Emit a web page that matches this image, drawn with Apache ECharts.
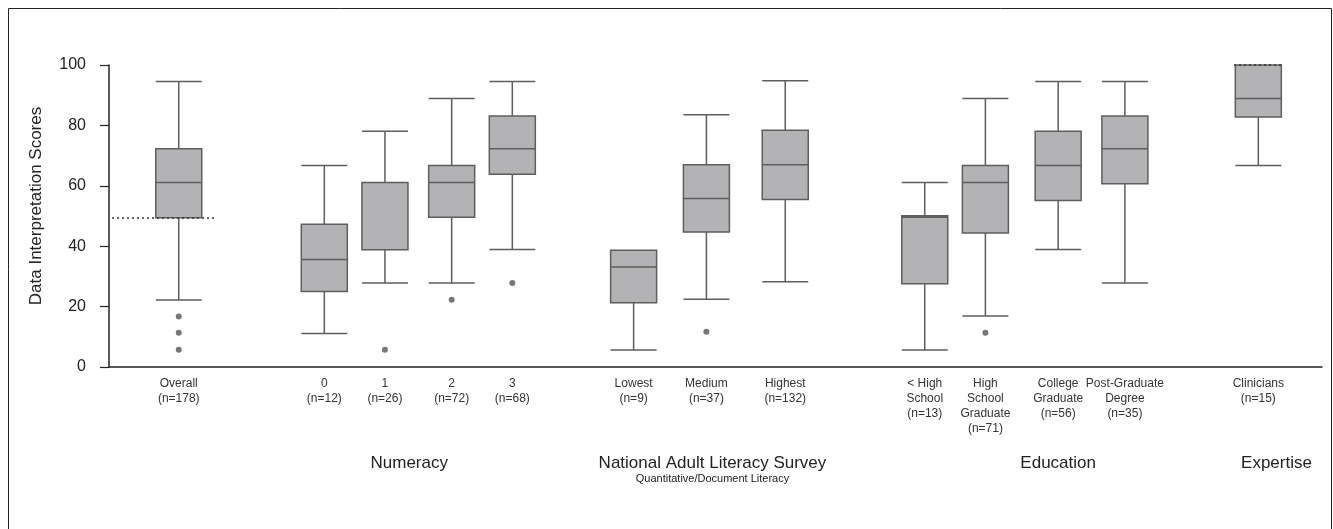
<!DOCTYPE html>
<html>
<head>
<meta charset="utf-8">
<script src="https://cdn.jsdelivr.net/npm/echarts@6/dist/echarts.min.js"></script>
<style>
html, body { margin: 0; padding: 0; background: #fff; }
#chart { width: 1333px; height: 529px; }
</style>
</head>
<body>
<div id="chart"></div>
<script>
// categories (x labels) and box statistics
var categories = ['Overall\n(n=178)', '0\n(n=12)', '1\n(n=26)', '2\n(n=72)', '3\n(n=68)',
	'Lowest\n(n=9)', 'Medium\n(n=37)', 'Highest\n(n=132)',
	'< High\nSchool\n(n=13)', 'High\nSchool\nGraduate\n(n=71)', 'College\nGraduate\n(n=56)', 'Post-Graduate\nDegree\n(n=35)',
	'Clinicians\n(n=15)'];
var boxMin    = [22.2, 11.1, 27.8, 27.8, 38.9,  5.6, 22.4, 28.2,  5.6, 16.9, 38.9, 27.8,  66.7];
var boxQ1     = [49.4, 25.0, 38.8, 49.6, 63.8, 21.3, 44.7, 55.5, 27.6, 44.4, 55.1, 60.7,  82.8];
var boxMedian = [61.1, 35.6, 61.1, 61.1, 72.3, 33.1, 55.8, 67.0, 49.6, 61.1, 66.7, 72.3,  88.9];
var boxQ3     = [72.3, 47.3, 61.1, 66.7, 83.1, 38.7, 67.0, 78.4, 50.1, 66.7, 78.1, 83.1, 100.0];
var boxMax    = [94.5, 66.7, 78.1, 88.9, 94.5, 38.7, 83.5, 94.8, 61.1, 88.9, 94.5, 94.5, 100.0];
// outliers: [category index, score]
var outliers = [[0, 16.7], [0, 11.3], [0, 5.7], [2, 5.7], [3, 22.3], [4, 27.8], [6, 11.7], [9, 11.3]];
// dotted reference marks: [category index, score]
var dottedMarks = [[0, 49.4], [12, 100]];
var groupNames = ['Numeracy', 'National Adult Literacy Survey', 'Education', 'Expertise'];
var groupSubtitle = 'Quantitative/Document Literacy';
var yTicks = [0, 20, 40, 60, 80, 100];

// layout: the axis is cut in fine slots so the uneven spacing of the figure can be kept
var NSLOTS = 200;
var boxSlot = [11, 35, 45, 56, 66, 86, 98, 111, 134, 144, 156, 167, 189];
var groupSlot = [49, 99, 156, 192];
var dotSpan = [[0, 17], [185, 193]];

var slotLabels = [], groupLabels = [];
for (var i = 0; i < NSLOTS; i++) { slotLabels.push(''); groupLabels.push(''); }
for (var k = 0; k < categories.length; k++) slotLabels[boxSlot[k]] = categories[k];
for (var g = 0; g < groupNames.length; g++) groupLabels[groupSlot[g]] = groupNames[g];

var boxData = [];
for (var k = 0; k < categories.length; k++) {
	boxData.push([boxSlot[k], boxMin[k], boxQ1[k], boxMedian[k], boxQ3[k], boxMax[k]]);
}
var outlierData = outliers.map(function (o) { return [boxSlot[o[0]], o[1]]; });
var dotLines = dottedMarks.map(function (m, j) {
	return [{ coord: [dotSpan[j][0], m[1]] }, { coord: [dotSpan[j][1], m[1]] }];
});

var font = 'Liberation Sans, Arial, Helvetica, sans-serif';
var myChart = echarts.init(document.getElementById('chart'));
var option = {
	animation: false,
	textStyle: { fontFamily: font },
	graphic: [{
		type: 'rect',
		shape: { x: 8.5, y: 8.5, width: 1323, height: 560 },
		style: { fill: 'none', stroke: '#222', lineWidth: 1 },
		silent: true
	}],
	grid: { left: 109, right: 11, top: 65, bottom: 162 },
	xAxis: [{
		type: 'category',
		data: slotLabels,
		axisLine: { lineStyle: { color: '#222', width: 1.5 } },
		axisTick: { show: false },
		axisLabel: { interval: 0, fontSize: 12, lineHeight: 15, margin: 9, color: '#333', fontFamily: font }
	}, {
		type: 'category',
		data: groupLabels,
		position: 'bottom',
		offset: 78,
		axisLine: { show: false },
		axisTick: { show: false },
		axisLabel: {
			interval: 0,
			margin: 8,
			formatter: function (v) {
				if (!v) return '';
				if (v === groupNames[1]) return '{t|' + v + '}\n{s|' + groupSubtitle + '}';
				return '{t|' + v + '}';
			},
			rich: {
				t: { fontSize: 17, lineHeight: 20, color: '#222', fontFamily: font },
				s: { fontSize: 11, lineHeight: 12, color: '#222', fontFamily: font }
			}
		}
	}],
	yAxis: {
		type: 'value',
		min: yTicks[0],
		max: yTicks[yTicks.length - 1],
		interval: yTicks[1] - yTicks[0],
		name: 'Data Interpretation Scores',
		nameLocation: 'middle',
		nameGap: 64,
		nameTextStyle: { fontSize: 17, color: '#222', fontFamily: font, padding: [0, 0, 0, 20] },
		axisLine: { show: true, lineStyle: { color: '#222', width: 1.5 } },
		axisTick: { show: true, length: 9, lineStyle: { color: '#222', width: 1.2 } },
		axisLabel: { fontSize: 16, margin: 23, color: '#222', fontFamily: font },
		splitLine: { show: false }
	},
	series: [{
		name: 'scores',
		type: 'boxplot',
		data: boxData,
		encode: { x: 0, y: [1, 2, 3, 4, 5] },
		boxWidth: [46, 46],
		silent: true,
		itemStyle: { color: '#b3b3b6', borderColor: '#5e5e5e', borderWidth: 1.5 }
	}, {
		name: 'outliers',
		type: 'scatter',
		data: outlierData,
		symbol: 'circle',
		symbolSize: 6,
		silent: true,
		itemStyle: { color: '#555' },
		markLine: {
			silent: true,
			symbol: 'none',
			label: { show: false },
			lineStyle: { type: [2, 3], color: '#333', width: 1.5 },
			data: dotLines
		}
	}]
};
myChart.setOption(option);
</script>
</body>
</html>
